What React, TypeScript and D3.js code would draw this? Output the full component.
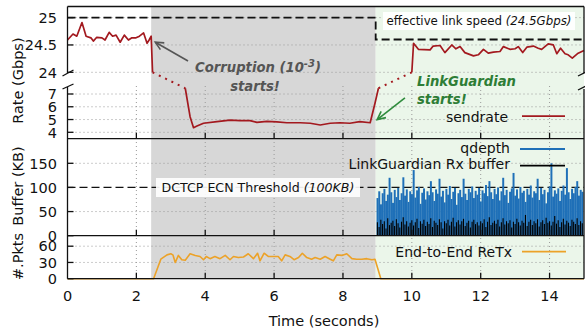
import React from 'react';
import * as d3 from 'd3';

// sendrate (Gbps)
const rateTime = [
  0, 0.16, 0.27, 0.42, 0.54, 0.68, 0.75, 0.85, 1.0, 1.09, 1.21, 1.31, 1.41, 1.53, 1.65, 1.77, 1.87, 1.99, 2.09, 2.21,
  2.31, 2.37, 2.43, 2.47,
  3.42, 3.56, 3.66, 3.76, 3.95, 4.34, 4.72, 5.01, 5.3, 5.5, 5.79, 6.08, 6.37, 6.76, 7.05, 7.34, 7.63, 7.91, 8.2, 8.49,
  8.79, 8.93, 9.03,
  10.0, 10.05, 10.19, 10.53, 10.62, 10.82, 10.96, 11.16, 11.28, 11.4, 11.54, 11.79, 11.93, 12.08, 12.22, 12.37, 12.56,
  12.66, 12.85, 13.0, 13.09, 13.22, 13.34, 13.53, 13.67, 13.77, 13.96, 14.11, 14.21, 14.32, 14.45, 14.54, 14.66, 14.83, 15.0,
];
const rateValue = [
  24.59, 24.7, 24.66, 24.91, 24.66, 24.63, 24.57, 24.64, 24.63, 24.59, 24.73, 24.66, 24.68, 24.55, 24.68, 24.59, 24.63,
  24.63, 24.66, 24.72, 24.53, 24.59, 24.66, 24.0,
  7.45, 5.22, 4.36, 4.49, 4.71, 4.83, 4.96, 4.91, 4.91, 4.78, 4.86, 4.81, 4.75, 4.75, 4.71, 4.57, 4.71, 4.75, 4.71, 4.83,
  4.75, 6.27, 7.45,
  24.0, 24.53, 24.42, 24.41, 24.48, 24.49, 24.36, 24.5, 24.43, 24.47, 24.36, 24.3, 24.32, 24.42, 24.35, 24.37, 24.38,
  24.47, 24.42, 24.43, 24.47, 24.36, 24.46, 24.48, 24.44, 24.42, 24.52, 24.5, 24.34, 24.44, 24.34, 24.32, 24.26, 24.35, 24.4,
];

// effective link speed (dashed)
const linkSpeedTime = [0, 8.95, 8.95, 15];
const linkSpeedValue = [25, 25, 24.6, 24.6];

// end-to-end retransmissions (#pkts)
const retxTime = [
  0, 2.45, 2.5, 2.71, 2.89, 3.0, 3.06, 3.13, 3.22, 3.32, 3.42, 3.56, 3.71, 3.85, 3.95, 4.03, 4.14, 4.28, 4.43, 4.58,
  4.72, 4.82, 4.96, 5.11, 5.25, 5.4, 5.52, 5.59, 5.71, 5.83, 5.98, 6.12, 6.22, 6.32, 6.46, 6.58, 6.71, 6.82, 6.95, 7.09,
  7.19, 7.34, 7.48, 7.63, 7.72, 7.82, 7.97, 8.11, 8.26, 8.4, 8.55, 8.69, 8.84, 8.93, 9.1, 15,
];
const retxValue = [
  0, 0, 0, 36, 44, 46, 44, 30, 43, 35, 34, 46, 43, 41, 35, 41, 37, 41, 37, 43,
  35, 41, 39, 40, 46, 37, 47, 33, 47, 41, 41, 41, 33, 44, 41, 35, 39, 47, 39, 36,
  39, 36, 41, 36, 33, 44, 43, 46, 37, 36, 36, 37, 35, 36, 0, 0,
];

// buffers (KB) once LinkGuardian is on, one sample every 50 ms from 9 s
const burstStart = 9.0;
const burstStep = 0.05;
const qdepthValue = [
  78, 92, 65, 88, 97, 72, 85, 120, 90, 68, 95, 80, 99, 74, 88, 121, 83, 96, 70, 92,
  86, 136, 79, 94, 101, 66, 89, 98, 75, 92, 84, 113, 90, 72, 96, 87, 118, 81, 93, 69,
  97, 85, 103, 76, 91, 99, 64, 88, 95, 80, 118, 87, 74, 97, 90, 102, 78, 93, 85, 99,
  71, 94, 88, 105, 82, 113, 90, 76, 97, 86, 100, 73, 92, 120, 84, 95, 68, 91, 98, 130,
  83, 96, 77, 101, 89, 93, 70, 97, 85, 104, 79, 92, 88, 118, 74, 99, 86, 95, 67, 90,
  102, 150, 81, 94, 87, 98, 72, 93, 104, 85, 140, 90, 76, 97, 88, 101, 113, 83, 95, 91,
];
const rxBufferValue = [
  28, 18, 33, 24, 30, 15, 36, 22, 27, 31, 20, 34, 26, 17, 29, 38, 23, 30, 19, 27,
  32, 21, 28, 35, 16, 30, 25, 33, 20, 29, 24, 36, 18, 31, 27, 22, 34, 28, 15, 30,
  26, 33, 21, 29, 37, 19, 28, 32, 23, 30, 35, 20, 27, 31, 17, 29, 33, 24, 28, 21,
  30, 26, 34, 18, 29, 38, 22, 27, 31, 25, 33, 19, 28, 36, 23, 30, 26, 32, 17, 29,
  24, 35, 28, 21, 31, 27, 43, 20, 29, 33, 22, 30, 26, 34, 19, 28, 32, 24, 37, 27,
  30, 21, 29, 41, 25, 32, 18, 28, 35, 23, 31, 27, 20, 33, 29, 24, 36, 22, 30, 26,
];

const corruptionStart = 2.43;
const guardianStart = 8.95;
const ecnThreshold = 100;

const xTicks = [0, 2, 4, 6, 8, 10, 12, 14];
const rateUpTicks = [24, 24.5, 25];
const rateLowTicks = [4, 5, 6, 7];
const bufTicks = [0, 50, 100, 150];
const pktTicks = [0, 30, 60];

const W = 585;
const H = 329;
const L = 67.5;
const R = 584;
const TOP = 6.5;
const BRK_HI = 75;
const BRK_LO = 86;
const SEP1 = 138.7;
const SEP2 = 235.7;
const BOT = 278.7;

const FONT = 'DejaVu Sans';
const RED = '#a3191f';
const BLUE = '#1f70b8';
const ORANGE = '#eca228';
const GRAY = '#d7d7d7';
const GREEN_BG = '#ebf6ea';
const GRID = '#999';

type P = { t: number; v: number };

function Arrow({ x1, y1, x2, y2, color }: { x1: number; y1: number; x2: number; y2: number; color: string }) {
  const a = Math.atan2(y2 - y1, x2 - x1);
  const len = 9;
  const s = 0.45;
  const h1 = [x2 - len * Math.cos(a - s), y2 - len * Math.sin(a - s)];
  const h2 = [x2 - len * Math.cos(a + s), y2 - len * Math.sin(a + s)];
  return (
    <g stroke={color} strokeWidth={1.6} fill="none">
      <line x1={x1} y1={y1} x2={x2} y2={y2} />
      <polyline points={`${h1[0]},${h1[1]} ${x2},${y2} ${h2[0]},${h2[1]}`} />
    </g>
  );
}

export default function App() {
  const x = d3.scaleLinear().domain([0, 15]).range([L, R]);
  const yUp = d3.scaleLinear().domain([24, 25]).range([72.3, 17.6]);
  const yLow = d3.scaleLinear().domain([4, 7]).range([132.3, 94]);
  const yBuf = d3.scaleLinear().domain([0, 150]).range([SEP2, 163.3]);
  const yPkt = d3.scaleLinear().domain([0, 60]).range([BOT, 246.2]);

  const hi = (p: P) => p.v > 20;
  const yRate = (p: P) => (hi(p) ? yUp(p.v) : yLow(p.v));

  // split the sendrate into solid runs per axis section, dotted jumps across the break
  const pts: P[] = rateTime.map((t, i) => ({ t, v: rateValue[i] }));
  const runs: P[][] = [];
  const jumps: [P, P][] = [];
  let cur: P[] = [pts[0]];
  for (let i = 1; i < pts.length; i++) {
    if (hi(pts[i]) === hi(pts[i - 1])) cur.push(pts[i]);
    else {
      runs.push(cur);
      jumps.push([pts[i - 1], pts[i]]);
      cur = [pts[i]];
    }
  }
  runs.push(cur);

  const rateLine = d3.line<P>().x((p) => x(p.t)).y(yRate);
  const speedLine = d3
    .line<number>()
    .x((_, i) => x(linkSpeedTime[i]))
    .y((v) => yUp(v));
  const retxLine = d3
    .line<number>()
    .x((_, i) => x(retxTime[i]))
    .y((v) => yPkt(v));

  const burstTime = qdepthValue.map((_, i) => burstStart + i * burstStep);
  const barW = x(burstStep) - x(0);

  const xs = x(corruptionStart);
  const xg = x(guardianStart);

  const txt = { fontFamily: FONT, fill: '#111' };

  return (
    <svg width={W} height={H} style={{ position: 'absolute', left: 0, top: 0, background: '#fff' }}>
      {/* phase shading */}
      <rect x={xs} y={TOP} width={xg - xs} height={BOT - TOP} fill={GRAY} />
      <rect x={xg} y={TOP} width={R - xg} height={BOT - TOP} fill={GREEN_BG} />

      {/* grids */}
      <g stroke={GRID} strokeWidth={1} strokeDasharray="1,3">
        {rateUpTicks.map((v) => (
          <line key={'gu' + v} x1={L} x2={R} y1={yUp(v)} y2={yUp(v)} />
        ))}
        {rateLowTicks.map((v) => (
          <line key={'gl' + v} x1={L} x2={R} y1={yLow(v)} y2={yLow(v)} />
        ))}
        {[50, 150].map((v) => (
          <line key={'gb' + v} x1={L} x2={R} y1={yBuf(v)} y2={yBuf(v)} />
        ))}
        {[30, 60].map((v) => (
          <line key={'gp' + v} x1={L} x2={R} y1={yPkt(v)} y2={yPkt(v)} />
        ))}
        {xTicks.slice(1).map((t) => (
          <line key={'gx' + t} x1={x(t)} x2={x(t)} y1={BRK_LO} y2={BOT} />
        ))}
      </g>

      {/* effective link speed */}
      <path
        d={speedLine(linkSpeedValue) || ''}
        fill="none"
        stroke="#111"
        strokeWidth={1.8}
        strokeDasharray="8,4"
      />
      {/* ECN threshold */}
      <line
        x1={L}
        x2={R}
        y1={yBuf(ecnThreshold)}
        y2={yBuf(ecnThreshold)}
        stroke="#111"
        strokeWidth={1.3}
        strokeDasharray="8,4"
      />

      {/* sendrate */}
      {runs.map((r, i) => (
        <path key={'r' + i} d={rateLine(r) || ''} fill="none" stroke={RED} strokeWidth={1.7} strokeLinejoin="round" />
      ))}
      {jumps.map(([a, b], i) => (
        <line
          key={'j' + i}
          x1={x(a.t)}
          y1={yRate(a)}
          x2={x(b.t)}
          y2={yRate(b)}
          stroke={RED}
          strokeWidth={2}
          strokeDasharray="2,5"
        />
      ))}

      {/* buffers */}
      <g fill={BLUE}>
        {qdepthValue.map((v, i) => (
          <rect
            key={'q' + i}
            x={x(burstTime[i]) - barW / 2}
            width={barW + 0.25}
            y={yBuf(v)}
            height={yBuf(0) - yBuf(v)}
          />
        ))}
      </g>
      <g stroke="#000" strokeWidth={1.1}>
        {rxBufferValue.map((v, i) => (
          <line key={'b' + i} x1={x(burstTime[i])} x2={x(burstTime[i])} y1={yBuf(0)} y2={yBuf(v)} />
        ))}
      </g>

      {/* retransmissions */}
      <path d={retxLine(retxValue) || ''} fill="none" stroke={ORANGE} strokeWidth={1.6} strokeLinejoin="round" />

      {/* label boxes */}
      <rect x={156} y={178} width={204} height={19} fill="#fff" fillOpacity={0.9} />
      <text x={258} y={192} textAnchor="middle" fontSize={12.6} {...txt}>
        DCTCP ECN Threshold <tspan fontStyle="italic">(100KB)</tspan>
      </text>
      <rect x={383} y={12} width={192} height={18} fill="#fff" fillOpacity={0.95} />
      <text x={479} y={25} textAnchor="middle" fontSize={11.8} {...txt}>
        effective link speed <tspan fontStyle="italic">(24.5Gbps)</tspan>
      </text>

      {/* frame */}
      <g stroke="#111" strokeWidth={1.3} fill="none">
        <line x1={L} x2={R} y1={TOP} y2={TOP} />
        <line x1={L} x2={R} y1={SEP1} y2={SEP1} />
        <line x1={L} x2={R} y1={SEP2} y2={SEP2} />
        <line x1={L} x2={R} y1={BOT} y2={BOT} />
        <line x1={L} x2={L} y1={TOP} y2={BRK_HI - 2} />
        <line x1={L} x2={L} y1={BRK_LO + 1} y2={BOT} />
        <line x1={R} x2={R} y1={TOP} y2={BRK_HI - 2} />
        <line x1={R} x2={R} y1={BRK_LO + 3} y2={BOT} />
        <line x1={L - 5} y1={BRK_HI + 1} x2={L + 6} y2={BRK_HI - 5} />
        <line x1={L - 5} y1={BRK_LO + 3} x2={L + 6} y2={BRK_LO - 2} />
        <line x1={R - 6} y1={BRK_HI + 1} x2={R + 4} y2={BRK_HI - 4} />
        <line x1={R - 6} y1={BRK_LO + 4} x2={R + 4} y2={BRK_LO - 1} />
        {rateUpTicks.map((v) => (
          <line key={'tu' + v} x1={L} x2={L + 6} y1={yUp(v)} y2={yUp(v)} />
        ))}
        {rateLowTicks.map((v) => (
          <line key={'tl' + v} x1={L} x2={L + 6} y1={yLow(v)} y2={yLow(v)} />
        ))}
        {bufTicks.map((v) => (
          <line key={'tb' + v} x1={L} x2={L + 6} y1={yBuf(v)} y2={yBuf(v)} />
        ))}
        {pktTicks.map((v) => (
          <line key={'tp' + v} x1={L} x2={L + 6} y1={yPkt(v)} y2={yPkt(v)} />
        ))}
        {xTicks.slice(1).map((t) =>
          [SEP1, SEP2, BOT].map((yb) => (
            <line key={'tx' + t + yb} x1={x(t)} x2={x(t)} y1={yb} y2={yb - 6} />
          )),
        )}
      </g>

      {/* tick labels */}
      <g fontSize={14.5} textAnchor="end" {...txt}>
        {rateUpTicks.map((v) => (
          <text key={'lu' + v} x={57} y={yUp(v)} dy="0.36em">
            {String(v)}
          </text>
        ))}
        {rateLowTicks.map((v) => (
          <text key={'ll' + v} x={57} y={yLow(v)} dy="0.36em">
            {String(v)}
          </text>
        ))}
        {bufTicks.map((v) => (
          <text key={'lb' + v} x={57} y={yBuf(v)} dy="0.36em">
            {String(v)}
          </text>
        ))}
        {pktTicks.map((v) => (
          <text key={'lp' + v} x={57} y={yPkt(v)} dy="0.36em">
            {String(v)}
          </text>
        ))}
      </g>
      <g fontSize={14.5} textAnchor="middle" {...txt}>
        {xTicks.map((t) => (
          <text key={'lx' + t} x={x(t)} y={300.7}>
            {String(t)}
          </text>
        ))}
        <text x={324} y={325.5}>Time (seconds)</text>
        <text transform={`translate(22.5,${(TOP + SEP1) / 2 + 8}) rotate(-90)`}>Rate (Gbps)</text>
        <text transform={`translate(22.5,186) rotate(-90)`}>Buffer (KB)</text>
        <text transform={`translate(22.5,256.5) rotate(-90)`}>#.Pkts</text>
      </g>

      {/* annotations */}
      <Arrow x1={x(3.5)} y1={61} x2={x(2.55)} y2={yUp(24.55)} color="#555" />
      <text x={195} y={72} fontSize={13.2} fontWeight="bold" fontStyle="italic" fill="#555" fontFamily={FONT}>
        Corruption (10
        <tspan dy={-5} fontSize={10}>
          -3
        </tspan>
        <tspan dy={5}>)</tspan>
      </text>
      <text x={255} y={90.5} textAnchor="middle" fontSize={13.2} fontWeight="bold" fontStyle="italic" fill="#555" fontFamily={FONT}>
        starts!
      </text>
      <Arrow x1={x(9.8)} y1={yLow(6.7)} x2={x(guardianStart) + 1.5} y2={yLow(5.0)} color="#2e8b3c" />
      <text x={417} y={86} fontSize={13.2} fontWeight="bold" fontStyle="italic" fill="#2e7d36" fontFamily={FONT}>
        LinkGuardian
      </text>
      <text x={417} y={104} fontSize={13.2} fontWeight="bold" fontStyle="italic" fill="#2e7d36" fontFamily={FONT}>
        starts!
      </text>

      {/* legends */}
      <g fontSize={14} textAnchor="end" {...txt}>
        <text x={508} y={121.5}>sendrate</text>
        <text x={510} y={152.7}>qdepth</text>
        <text x={510} y={169.3}>LinkGuardian Rx buffer</text>
        <text x={512} y={257.3}>End-to-End ReTx</text>
      </g>
      <line x1={522} x2={565} y1={116.2} y2={116.2} stroke={RED} strokeWidth={1.8} />
      <line x1={520} x2={565} y1={149} y2={149} stroke={BLUE} strokeWidth={1.8} />
      <line x1={520} x2={565} y1={165.7} y2={165.7} stroke="#000" strokeWidth={1.8} />
      <line x1={522} x2={566} y1={251.7} y2={251.7} stroke={ORANGE} strokeWidth={1.8} />
    </svg>
  );
}
